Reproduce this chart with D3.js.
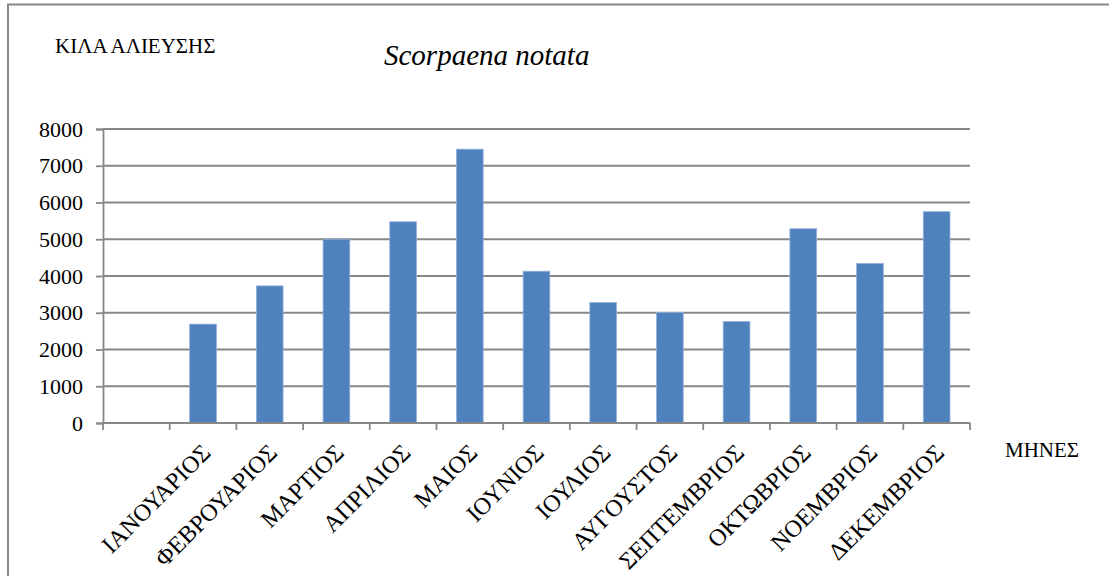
<!DOCTYPE html>
<html>
<head>
<meta charset="utf-8">
<script src="https://cdn.jsdelivr.net/npm/d3@7"></script>
<style>
  body { margin: 0; background: #fff; }
  svg { display: block; }
  svg text { font-family: "Liberation Serif", "Times New Roman", "DejaVu Serif", serif; }
</style>
</head>
<body>
<svg width="1109" height="576"></svg>
<script>
// months (first slot on the axis is left empty in the original)
const months = ['ΙΑΝΟΥΑΡΙΟΣ', 'ΦΕΒΡΟΥΑΡΙΟΣ', 'ΜΑΡΤΙΟΣ', 'ΑΠΡΙΛΙΟΣ', 'ΜΑΙΟΣ', 'ΙΟΥΝΙΟΣ',
    'ΙΟΥΛΙΟΣ', 'ΑΥΓΟΥΣΤΟΣ', 'ΣΕΠΤΕΜΒΡΙΟΣ', 'ΟΚΤΩΒΡΙΟΣ', 'ΝΟΕΜΒΡΙΟΣ', 'ΔΕΚΕΜΒΡΙΟΣ'];
// kilos caught
const kilos = [2690, 3730, 5000, 5475, 7450, 4130, 3280, 3005, 2760, 5285, 4340, 5750];
const yTicks = [0, 1000, 2000, 3000, 4000, 5000, 6000, 7000, 8000];

const slots = [''].concat(months);
const data = months.map((m, i) => ({month: m, value: kilos[i]}));

const plotLeft = 103, plotRight = 970, plotTop = 129, plotBottom = 423;
const grey = '#878787';
const serif = '"Liberation Serif", "Times New Roman", "DejaVu Serif", serif';

const xScale = d3.scaleBand()
    .domain(slots)
    .range([plotLeft, plotRight])
    .paddingInner(0.6)
    .paddingOuter(0.3);
const yScale = d3.scaleLinear()
    .domain([0, 8000])
    .range([plotBottom, plotTop]);

const svg = d3.select('svg');

// outer frame
svg.append('path')
    .attr('d', 'M8,580 V4.5 H1115')
    .attr('fill', 'none')
    .attr('stroke', grey)
    .attr('stroke-width', 2);

// gridlines
svg.selectAll('.grid')
    .data(yTicks.filter(t => t > 0))
    .enter()
    .append('line')
    .attr('x1', plotLeft).attr('x2', plotRight)
    .attr('y1', d => yScale(d)).attr('y2', d => yScale(d))
    .attr('stroke', grey)
    .attr('stroke-width', 1.8);

// bars
svg.selectAll('.bar')
    .data(data)
    .enter()
    .append('rect')
    .attr('x', d => xScale(d.month))
    .attr('y', d => yScale(d.value))
    .attr('width', xScale.bandwidth())
    .attr('height', d => plotBottom - yScale(d.value))
    .attr('fill', '#4F81BD')
    .attr('stroke', '#8EB0DC')
    .attr('stroke-width', 0.8);

// y axis
const yAxis = svg.append('g')
    .attr('transform', `translate(${plotLeft},0)`)
    .call(d3.axisLeft(yScale).tickValues(yTicks).tickSize(7).tickPadding(13).tickFormat(d3.format('d')))
    .attr('font-family', serif);
yAxis.select('.domain').attr('stroke', grey).attr('stroke-width', 1.8);
yAxis.selectAll('.tick line').attr('stroke', grey).attr('stroke-width', 1.8);
yAxis.selectAll('.tick text')
    .style('font-size', '22px')
    .style('font-family', serif)
    .attr('fill', '#000');

// x axis line + tick marks at slot boundaries
const step = xScale.step();
svg.append('line')
    .attr('x1', plotLeft).attr('x2', plotRight)
    .attr('y1', plotBottom).attr('y2', plotBottom)
    .attr('stroke', grey).attr('stroke-width', 1.8);
svg.selectAll('.xtick')
    .data(d3.range(slots.length + 1))
    .enter()
    .append('line')
    .attr('x1', i => plotLeft + i * step).attr('x2', i => plotLeft + i * step)
    .attr('y1', plotBottom).attr('y2', plotBottom + 7)
    .attr('stroke', grey).attr('stroke-width', 1.8);

// x labels, rotated
svg.selectAll('.xlabel')
    .data(months)
    .enter()
    .append('text')
    .attr('transform', m => `translate(${xScale(m) + xScale.bandwidth() / 2 + 9},454) rotate(-45)`)
    .attr('text-anchor', 'end')
    .style('font-size', '24px')
    .style('font-family', serif)
    .attr('fill', '#000')
    .text(m => m);

// titles
svg.append('text')
    .attr('x', 384).attr('y', 65)
    .style('font-size', '29px')
    .style('font-family', serif)
    .style('font-style', 'italic')
    .text('Scorpaena notata');
svg.append('text')
    .attr('x', 55).attr('y', 53)
    .style('font-size', '21px')
    .style('font-family', serif)
    .text('ΚΙΛΑ ΑΛΙΕΥΣΗΣ');
svg.append('text')
    .attr('x', 1005).attr('y', 457)
    .style('font-size', '21px')
    .style('font-family', serif)
    .text('ΜΗΝΕΣ');
</script>
</body>
</html>
